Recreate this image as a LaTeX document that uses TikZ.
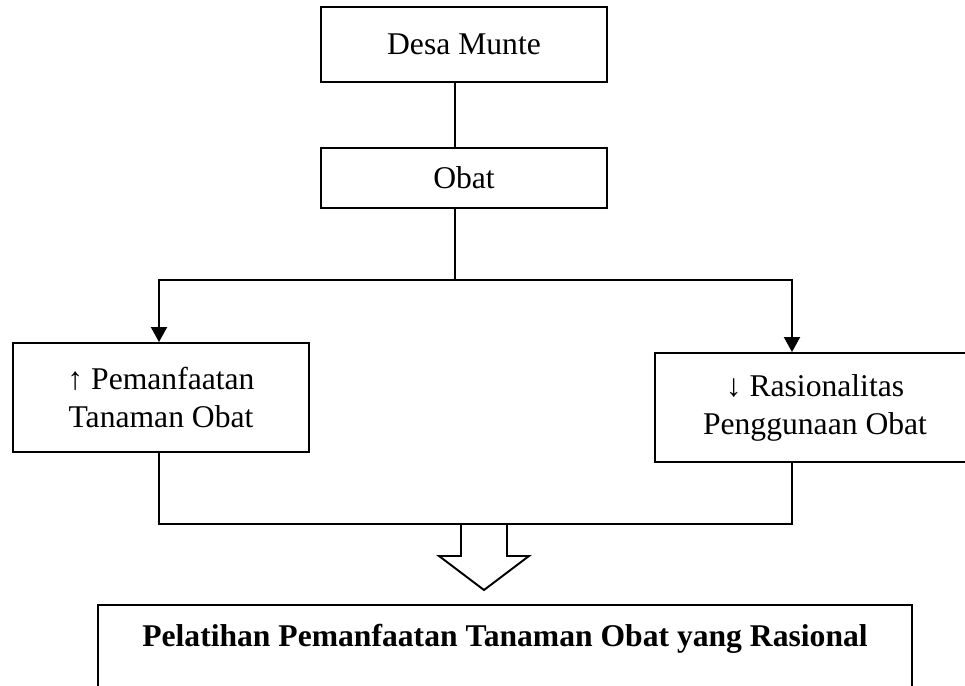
\documentclass[tikz,border=0pt]{standalone}
\usepackage{fontspec}
\setmainfont{Liberation Serif}
\usetikzlibrary{arrows.meta, positioning, calc}

\begin{document}
\begin{tikzpicture}[
    x=0.02cm, y=-0.02cm,
    box/.style={rectangle, draw, line width=1.1pt, align=center, inner sep=0pt, font=\fontsize{18}{21.6}\selectfont},
    line/.style={line width=1.1pt},
    arrow/.style={line width=1.1pt, -{Triangle[length=0.3cm, width=0.32cm]}}
]
\useasboundingbox (0,0) rectangle (965,686);
\clip (0,0) rectangle (965,686);

% Nodes
\node[box, minimum width=5.72cm, minimum height=1.5cm] (desa) at (464,44.5) {Desa Munte};
\node[box, minimum width=5.72cm, minimum height=1.2cm] (obat) at (464,178) {Obat};
\node[box, minimum width=5.92cm, minimum height=2.18cm] (pemanfaatan) at (161,397.5) {↑ Pemanfaatan\\Tanaman Obat};
\node[box, minimum width=6.4cm, minimum height=2.18cm] (rasionalitas) at (815,407.5) {↓ Rasionalitas\\Penggunaan Obat};
\node[box, anchor=north, minimum width=16.28cm, text height=0.84cm, text depth=1.36cm, font=\fontsize{18}{21.6}\selectfont\bfseries] (pelatihan) at (505,604) {Pelatihan Pemanfaatan Tanaman Obat yang Rasional};

% Branch points
\coordinate (trunk) at (455,280);
\coordinate (split left) at (159,280);
\coordinate (split right) at (792,280);
\coordinate (join) at (484,524);

% Arrows
\draw[line] (desa.south -| trunk) -- (obat.north -| trunk);
\draw[line] (obat.south -| trunk) -- (trunk);
\draw[arrow] (trunk) -| (pemanfaatan.north -| split left);
\draw[arrow] (trunk) -| (rasionalitas.north -| split right);
\draw[line] (pemanfaatan.south -| split left) |- (join) -| (rasionalitas.south -| split right);

% Hollow arrow to training
\draw[line, fill=white] ($(join)+(-23,0)$) -- ++(0,32) -- ++(-22,0) -- ($(join)+(0,66)$) -- ($(join)+(45,32)$) -- ++(-22,0) -- ++(0,-32) -- cycle;

\end{tikzpicture}
\end{document}
